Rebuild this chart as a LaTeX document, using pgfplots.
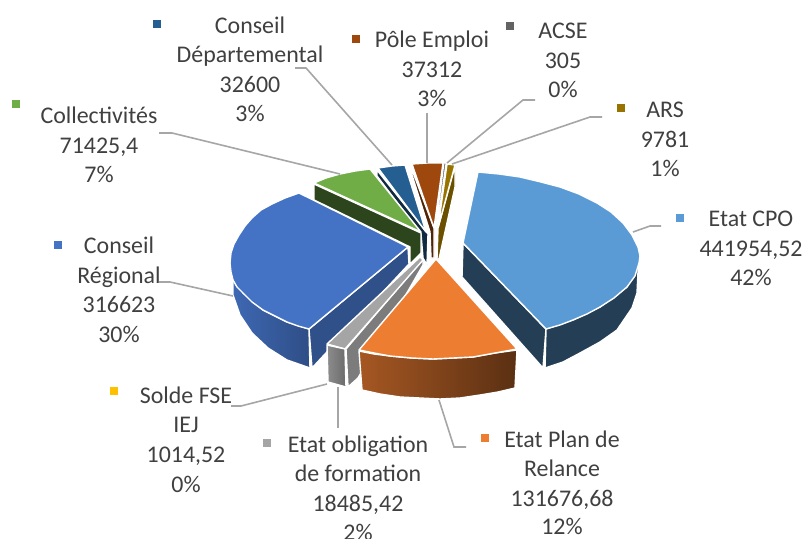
\documentclass[border=0pt]{standalone}
\usepackage{fontspec}
\setmainfont{Carlito}
\usepackage{pgfplots}
\pgfplotsset{compat=1.18}

\definecolor{txt}{HTML}{404040}
\definecolor{leader}{HTML}{A6A6A6}
\definecolor{cCPO}{HTML}{5B9BD5}
\definecolor{cPlan}{HTML}{ED7D31}
\definecolor{cOblig}{HTML}{A5A5A5}
\definecolor{cSolde}{HTML}{FFC000}
\definecolor{cCR}{HTML}{4472C4}
\definecolor{cColl}{HTML}{70AD47}
\definecolor{cCD}{HTML}{255E91}
\definecolor{cPole}{HTML}{9E480E}
\definecolor{cACSE}{HTML}{636363}
\definecolor{cARS}{HTML}{997300}

\newcommand{\lab}[3]{\node[anchor=base, inner sep=0pt, text=txt, font=\fontsize{23.9}{28}\selectfont] at (axis cs:#1,#2) {#3};}
\newcommand{\mk}[3]{\addplot[only marks, mark=square*, mark size=3.6pt, mark options={draw=#3, fill=#3}] coordinates {(#1,#2)};}

\begin{document}
\begin{tikzpicture}
\useasboundingbox (0,0) rectangle (805pt,538pt);
\begin{axis}[
  at={(0,0)}, anchor=south west,
  scale only axis, width=805pt, height=538pt,
  xmin=0, xmax=805, ymin=0, ymax=538, y dir=reverse,
  hide axis,
  face/.style={draw=white, line width=1.4pt, line join=round},
  lead/.style={draw=leader, line width=1.6pt},
]
% Pole Emploi
\addplot[face, fill=cPole!50!black] coordinates {(411,167) (412,175) (430,232) (431,258) (434,258) (434,228)} -- cycle;
\addplot[face, fill=cPole] coordinates {(412,164) (427,163) (443,163) (434,228)} -- cycle;
% Conseil Departemental
\addplot[face, fill=cCD!45!black] coordinates {(377,170) (377,176) (421,234) (423,258) (427,265) (428,234)} -- cycle;
\addplot[face, fill=cCD] coordinates {(378,168) (392,166) (405,165) (426,232)} -- cycle;
% Collectivites
\addplot[face, fill=cColl!40!black] coordinates {(314,184) (421,233) (421,253) (410,264) (410,247) (314,200)} -- cycle;
\addplot[face, fill=cColl] coordinates {(314,183) (326,178) (340,174) (355,171) (370,169) (421,232)} -- cycle;
% ACSE
\addplot[draw=white, line width=1pt, fill=cACSE] coordinates {(444,163) (446,163) (437,226) (436,226)} -- cycle;
% ARS
\addplot[face, fill=cARS!70!black] coordinates {(455,166) (455,187) (439,259) (437,259) (438,228)} -- cycle;
\addplot[face, fill=cARS] coordinates {(447,164) (455,165) (438,228)} -- cycle;
% Etat CPO
\addplot[face, fill=cCPO!40!black] coordinates {(463,243) (462,277) (543,368) (546,329)} -- cycle;
\addplot[face, fill=cCPO!40!black] coordinates {(546,329) (573,320) (600,307) (627,287) (639,263) (638,272) (637,293) (632,308) (617,330) (600,342) (580,353) (563,362) (545,368)} -- cycle;
\addplot[face, fill=cCPO] coordinates {(478,172) (499,174) (520,177) (541,182) (560,187) (579,194) (597,203) (611,212) (623,223) (632,235) (638,247) (640,256) (639,263) (635,276) (627,287) (614,298) (600,307) (587,314) (573,320) (560,325) (546,329) (463,243)} -- cycle;
% Conseil Regional
\addplot[face, fill=cCR!70!black] coordinates {(408,247) (409,264) (312,368) (309,329)} -- cycle;
\addplot[face, left color=cCR!92!black, right color=cCR!68!black] coordinates {(231,272) (233,282) (233,295) (240,315) (252,333) (268,348) (287,360) (310,368) (309,329) (287,322) (263,310) (243,293)} -- cycle;
\addplot[face, fill=cCR] coordinates {(299,193) (285,198) (272,204) (261,210) (252,218) (245,226) (239,235) (234,244) (231,253) (230,263) (231,272) (233,280) (237,287) (243,293) (252,302) (263,310) (275,316) (287,322) (298,326) (309,329) (408,247)} -- cycle;
% Etat obligation de formation
\addplot[face, fill=cOblig!75!black] coordinates {(346,349) (423,259) (423,265) (358,378) (348,387)} -- cycle;
\addplot[face, fill=cOblig] coordinates {(327,344) (420,257) (423,260) (345,349)} -- cycle;
\addplot[face, left color=cOblig!85!black, right color=cOblig!65!black] coordinates {(327,345) (345,349) (346,387) (328,382)} -- cycle;
% Etat Plan de Relance
\addplot[face, left color=cPlan!70!black, right color=cPlan!38!black] coordinates {(359,351) (374,354) (390,356) (412,358) (433,359) (453,358) (473,357) (495,353) (517,350) (515,388) (498,392) (480,395) (460,398) (440,399) (420,398) (400,397) (380,394) (362,390)} -- cycle;
\addplot[face, fill=cPlan] coordinates {(359,350) (374,353) (390,356) (412,358) (433,359) (453,358) (473,357) (495,353) (517,349) (436,259)} -- cycle;
% leader lines
\addplot[lead] coordinates {(295,68) (306,68) (392,165)};
\addplot[lead] coordinates {(427,113) (427,163)};
\addplot[lead] coordinates {(535,100) (523,100) (447,163)};
\addplot[lead] coordinates {(602,117) (590,117) (452,164)};
\addplot[lead] coordinates {(159,133) (172,133) (340,174)};
\addplot[lead] coordinates {(159,282) (170,282) (233,296)};
\addplot[lead] coordinates {(661,226) (650,226) (633,232)};
\addplot[lead] coordinates {(231,406) (241,406) (327,384)};
\addplot[lead] coordinates {(338,387) (338,428)};
\addplot[lead] coordinates {(466,447) (454,447) (439,400)};
% legend keys beside the labels
\mk{157}{24}{cCD}
\mk{356}{39}{cPole}
\mk{16}{104}{cColl}
\mk{510}{26}{cACSE}
\mk{621}{108}{cARS}
\mk{680}{218}{cCPO}
\mk{58}{245}{cCR}
\mk{114}{391}{cSolde}
\mk{267}{443}{cOblig}
\mk{485}{438}{cPlan}
% labels
\lab{250}{33}{Conseil}
\lab{250}{62}{Départemental}
\lab{250}{92}{32600}
\lab{250}{121}{3\%}
\lab{432}{47}{Pôle Emploi}
\lab{432}{77}{37312}
\lab{432}{106}{3\%}
\lab{563}{38}{ACSE}
\lab{563}{68}{305}
\lab{563}{97}{0\%}
\lab{665}{117}{ARS}
\lab{665}{147}{9781}
\lab{665}{176}{1\%}
\lab{99}{123}{Collectivités}
\lab{99}{153}{71425,4}
\lab{99}{182}{7\%}
\lab{751}{226}{Etat CPO}
\lab{751}{256}{441954,52}
\lab{751}{285}{42\%}
\lab{119}{253}{Conseil}
\lab{119}{283}{Régional}
\lab{119}{312}{316623}
\lab{119}{342}{30\%}
\lab{186}{403}{Solde FSE}
\lab{186}{432}{IEJ}
\lab{186}{462}{1014,52}
\lab{186}{492}{0\%}
\lab{358}{452}{Etat obligation}
\lab{358}{481}{de formation}
\lab{358}{511}{18485,42}
\lab{358}{540}{2\%}
\lab{562}{447}{Etat Plan de}
\lab{562}{476}{Relance}
\lab{562}{506}{131676,68}
\lab{562}{534}{12\%}
\end{axis}
\end{tikzpicture}
\end{document}
